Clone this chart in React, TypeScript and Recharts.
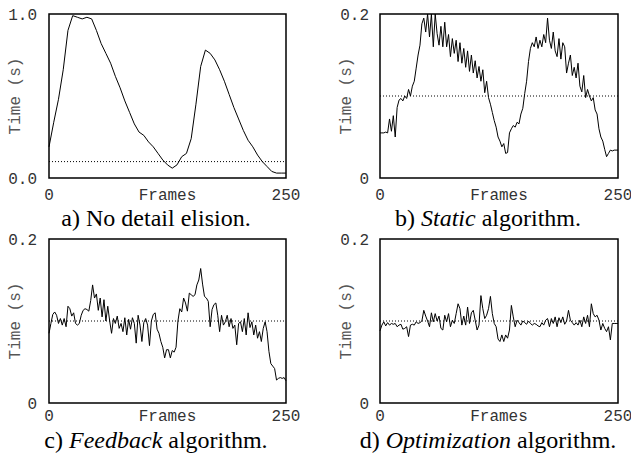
import React from "react";
import { LineChart, Line, XAxis, YAxis, ReferenceLine, ReferenceArea } from "recharts";

// ---- categories (frame numbers) ----
const FRAMES_A = [0,5,10,15,20,25,30,35,40,45,50,55,60,65,70,75,80,85,90,95,100,105,110,115,120,125,130,135,140,145,150,155,160,165,170,175,180,185,190,195,200,205,210,215,220,225,230,235,240,245,250];
const FRAMES = [0,2,4,6,8,10,12,14,16,18,20,22,24,26,28,30,32,34,36,38,40,42,44,46,48,50,52,54,56,58,60,62,64,66,68,70,72,74,76,78,80,82,84,86,88,90,92,94,96,98,100,102,104,106,108,110,112,114,116,118,120,122,124,126,128,130,132,134,136,138,140,142,144,146,148,150,152,154,156,158,160,162,164,166,168,170,172,174,176,178,180,182,184,186,188,190,192,194,196,198,200,202,204,206,208,210,212,214,216,218,220,222,224,226,228,230,232,234,236,238,240,242,244,246,248,250];

// ---- series values (seconds) ----
const TIME_A = [0.19,0.34,0.48,0.66,0.90,0.99,0.98,0.97,0.98,0.97,0.90,0.82,0.76,0.70,0.62,0.55,0.47,0.40,0.33,0.28,0.26,0.22,0.19,0.15,0.11,0.08,0.06,0.08,0.13,0.15,0.24,0.45,0.68,0.78,0.76,0.72,0.66,0.59,0.51,0.43,0.36,0.29,0.23,0.19,0.14,0.10,0.07,0.04,0.03,0.03,0.03];

const TIME_B = [
  0.055,0.055,0.055,0.056,0.055,0.072,0.057,0.076,0.05,0.086,
  0.095,0.097,0.094,0.1,0.097,0.108,0.1,0.112,0.118,0.134,
  0.15,0.162,0.188,0.195,0.178,0.2,0.172,0.2,0.16,0.2,
  0.176,0.162,0.185,0.16,0.19,0.16,0.175,0.148,0.17,0.152,
  0.168,0.142,0.165,0.14,0.158,0.135,0.155,0.13,0.15,0.128,
  0.143,0.122,0.136,0.118,0.132,0.104,0.118,0.098,0.09,0.08,
  0.07,0.062,0.05,0.045,0.038,0.042,0.03,0.031,0.055,0.06,
  0.064,0.062,0.068,0.066,0.078,0.085,0.103,0.118,0.142,0.158,
  0.165,0.16,0.172,0.158,0.168,0.16,0.175,0.165,0.195,0.168,
  0.158,0.178,0.155,0.148,0.17,0.145,0.165,0.16,0.128,0.14,
  0.15,0.125,0.135,0.122,0.14,0.112,0.105,0.125,0.098,0.108,
  0.1,0.094,0.098,0.083,0.078,0.06,0.05,0.045,0.035,0.026,
  0.03,0.034,0.033,0.034,0.034,0.034
];

const TIME_C = [
  0.085,0.097,0.108,0.111,0.107,0.097,0.103,0.095,0.103,0.093,
  0.118,0.115,0.106,0.11,0.097,0.095,0.097,0.107,0.113,0.115,
  0.114,0.112,0.125,0.144,0.128,0.133,0.113,0.128,0.105,0.126,
  0.1,0.118,0.1,0.085,0.103,0.097,0.106,0.091,0.097,0.087,
  0.104,0.083,0.102,0.09,0.104,0.097,0.073,0.107,0.095,0.075,
  0.098,0.103,0.095,0.07,0.1,0.108,0.11,0.09,0.085,0.075,
  0.068,0.055,0.065,0.065,0.055,0.064,0.062,0.068,0.1,0.115,
  0.111,0.128,0.122,0.112,0.134,0.132,0.13,0.132,0.144,0.15,
  0.164,0.145,0.13,0.128,0.124,0.093,0.114,0.12,0.122,0.107,
  0.087,0.107,0.095,0.099,0.107,0.093,0.103,0.091,0.095,0.071,
  0.097,0.099,0.087,0.103,0.083,0.11,0.092,0.099,0.083,0.095,
  0.079,0.087,0.075,0.091,0.099,0.087,0.063,0.048,0.045,0.042,
  0.028,0.03,0.031,0.03,0.031,0.027
];

const TIME_D = [
  0.088,0.095,0.099,0.094,0.098,0.095,0.097,0.096,0.097,0.093,
  0.095,0.096,0.09,0.091,0.093,0.081,0.095,0.096,0.095,0.099,
  0.097,0.098,0.1,0.113,0.106,0.1,0.093,0.11,0.099,0.109,
  0.1,0.106,0.091,0.089,0.107,0.099,0.109,0.093,0.101,0.097,
  0.109,0.121,0.115,0.095,0.106,0.095,0.117,0.097,0.11,0.113,
  0.101,0.089,0.095,0.131,0.115,0.103,0.107,0.115,0.13,0.109,
  0.097,0.093,0.078,0.075,0.083,0.075,0.083,0.079,0.089,0.119,
  0.105,0.093,0.101,0.098,0.095,0.1,0.098,0.096,0.1,0.097,
  0.095,0.097,0.096,0.094,0.093,0.098,0.095,0.101,0.103,0.093,
  0.103,0.097,0.105,0.093,0.104,0.098,0.105,0.096,0.1,0.113,
  0.101,0.098,0.095,0.098,0.095,0.101,0.093,0.105,0.097,0.107,
  0.093,0.121,0.109,0.105,0.107,0.101,0.089,0.097,0.091,0.087,
  0.093,0.077,0.097,0.097,0.097,0.097
];

// ---- tick labels / text ----
const X_TICKS = [0, 250];
const Y_TICKS_A = [0, 1];
const Y_TICKS_B = [0, 0.2];
const THRESHOLD = 0.1;
const X_LABEL = "Frames";
const Y_LABEL = "Time (s)";

const MONO = "'Liberation Mono', 'Courier New', monospace";
const SERIF = "'Liberation Serif', 'Times New Roman', serif";

function table(xs: number[], ys: number[]) {
  const n = Math.min(xs.length, ys.length);
  const out: { f: number; t: number }[] = [];
  for (let i = 0; i < n; i++) out.push({ f: xs[i], t: ys[i] });
  return out;
}

type PanelProps = {
  data: { f: number; t: number }[];
  left: number;
  top: number;
  width: number;
  height: number;
  yMax: number;
  yTicks: number[];
  fmt: (v: number) => string;
  yAxisWidth: number;
  rightMargin: number;
  xTickMargin: number;
  yTickMargin: number;
  yLabelX: number;
};

function Panel(p: PanelProps) {
  const plotTop = 14;
  const plotH = 164;
  const xAxisH = p.height - plotTop - plotH;
  const YLabel = () => (
    <text
      x={p.yLabelX}
      y={plotTop + plotH / 2}
      transform={`rotate(-90, ${p.yLabelX}, ${plotTop + plotH / 2})`}
      textAnchor="middle"
      dominantBaseline="central"
      fontFamily={MONO}
      fontSize={16}
      fill="#555"
    >
      {Y_LABEL}
    </text>
  );
  return (
    <div style={{ position: "absolute", left: p.left, top: p.top, width: p.width, height: p.height }}>
      <LineChart
        width={p.width}
        height={p.height}
        data={p.data}
        margin={{ top: plotTop, right: p.rightMargin, bottom: 0, left: 0 }}
      >
        <XAxis
          dataKey="f"
          type="number"
          domain={[0, 250]}
          ticks={X_TICKS}
          interval={0}
          height={xAxisH}
          tickLine={false}
          axisLine={false}
          tickSize={0}
          tickMargin={p.xTickMargin}
          tick={{ fontFamily: MONO, fontSize: 16, fill: "#333" }}
          label={{ value: X_LABEL, position: "insideTop", offset: p.xTickMargin, fontFamily: MONO, fontSize: 16, fill: "#333" }}
        />
        <YAxis
          type="number"
          domain={[0, p.yMax]}
          ticks={p.yTicks}
          interval={0}
          width={p.yAxisWidth}
          tickLine={false}
          axisLine={false}
          tickSize={0}
          tickMargin={p.yTickMargin}
          tickFormatter={p.fmt}
          allowDataOverflow
          tick={{ fontFamily: MONO, fontSize: 16, fill: "#333" }}
          label={{ content: <YLabel /> } as any}
        />
        <ReferenceLine y={THRESHOLD} stroke="#000" strokeWidth={1} strokeDasharray="1 2" />
        <Line
          dataKey="t"
          type="linear"
          stroke="#000"
          strokeWidth={1}
          dot={false}
          isAnimationActive={false}
        />
        <ReferenceArea
          x1={0}
          x2={250}
          y1={0}
          y2={p.yMax}
          fill="none"
          fillOpacity={0}
          stroke="#000"
          strokeWidth={1.5}
        />
      </LineChart>
    </div>
  );
}

const fmtA = (v: number) => v.toFixed(1);
const fmtB = (v: number) => (v === 0 ? "0" : String(v));

export default function App() {
  const dA = table(FRAMES_A, TIME_A);
  const dB = table(FRAMES, TIME_B);
  const dC = table(FRAMES, TIME_C);
  const dD = table(FRAMES, TIME_D);
  const capStyle = { fontFamily: SERIF, fontSize: 24, fill: "#000" } as const;
  return (
    <div style={{ position: "absolute", left: 0, top: 0, width: 631, height: 455, background: "#fff", overflow: "hidden" }}>
      <Panel data={dA} left={0} top={0} width={315} height={212} yMax={1} yTicks={Y_TICKS_A} fmt={fmtA}
        yAxisWidth={49} rightMargin={29} xTickMargin={11} yTickMargin={12} yLabelX={16} />
      <Panel data={dB} left={315} top={0} width={316} height={212} yMax={0.2} yTicks={Y_TICKS_B} fmt={fmtB}
        yAxisWidth={65} rightMargin={13} xTickMargin={11} yTickMargin={11} yLabelX={32} />
      <Panel data={dC} left={0} top={225} width={315} height={212} yMax={0.2} yTicks={Y_TICKS_B} fmt={fmtB}
        yAxisWidth={49} rightMargin={29} xTickMargin={7} yTickMargin={12} yLabelX={16} />
      <Panel data={dD} left={315} top={225} width={316} height={212} yMax={0.2} yTicks={Y_TICKS_B} fmt={fmtB}
        yAxisWidth={65} rightMargin={13} xTickMargin={7} yTickMargin={11} yLabelX={32} />
      <svg width={631} height={455} style={{ position: "absolute", left: 0, top: 0, pointerEvents: "none" }}>
        <text x={156} y={226} textAnchor="middle" {...capStyle}>a) No detail elision.</text>
        <text x={488} y={226} textAnchor="middle" {...capStyle}>
          b) <tspan fontStyle="italic">Static</tspan> algorithm.
        </text>
        <text x={156} y={448} textAnchor="middle" {...capStyle}>
          c) <tspan fontStyle="italic">Feedback</tspan> algorithm.
        </text>
        <text x={488} y={448} textAnchor="middle" {...capStyle}>
          d) <tspan fontStyle="italic">Optimization</tspan> algorithm.
        </text>
      </svg>
    </div>
  );
}
